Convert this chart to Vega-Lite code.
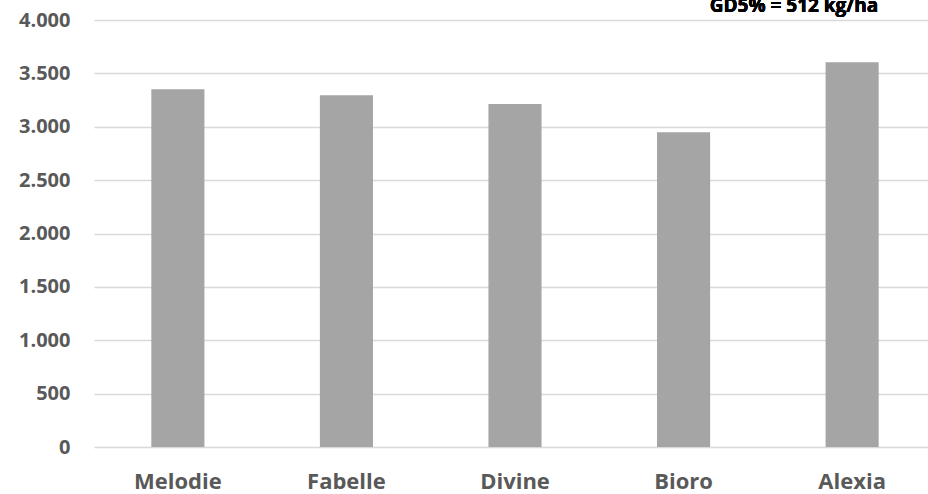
{
  "$schema": "https://vega.github.io/schema/vega-lite/v6.json",
  "autosize": "none",
  "padding": {"left": 94, "top": 20, "right": 0, "bottom": 47},
  "width": 842,
  "height": 427,
  "background": "white",
  "config": {"view": {"stroke": null}, "font": "Open Sans"},
  "data": {"values": [
    {"sorte": "Melodie", "ertrag": 3352},
    {"sorte": "Fabelle", "ertrag": 3296},
    {"sorte": "Divine", "ertrag": 3212},
    {"sorte": "Bioro", "ertrag": 2949},
    {"sorte": "Alexia", "ertrag": 3605}
  ]},
  "layer": [
    {
      "mark": {"type": "bar", "color": "#A5A5A5"},
      "encoding": {
        "x": {"field": "sorte", "type": "nominal", "sort": null,
          "scale": {"paddingInner": 0.685, "paddingOuter": 0.34},
          "axis": {"title": null, "domain": false, "ticks": false, "labelAngle": 0,
            "labelFontSize": 22, "labelFontWeight": "bold", "labelColor": "#595959", "labelPadding": 24}},
        "y": {"field": "ertrag", "type": "quantitative",
          "scale": {"domain": [0, 4000], "nice": false},
          "axis": {"title": null, "domain": false, "ticks": false, "values": [0,500,1000,1500,2000,2500,3000,3500,4000],
            "labelExpr": "replace(format(datum.value, ','), ',', '.')",
            "labelFontSize": 20, "labelFontWeight": "bold", "labelColor": "#595959", "labelPadding": 24,
            "gridColor": "#D9D9D9", "gridWidth": 1.3}}
      }
    },
    {
      "mark": {"type": "text", "fontWeight": "bold", "fontSize": 19, "color": "#000000", "align": "right", "dx": 26, "dy": -8, "baseline": "alphabetic"},
      "encoding": {
        "x": {"datum": "Alexia", "type": "nominal"},
        "y": {"datum": 4000, "type": "quantitative"},
        "text": {"value": "GD5% = 512 kg/ha"}
      }
    }
  ]
}
